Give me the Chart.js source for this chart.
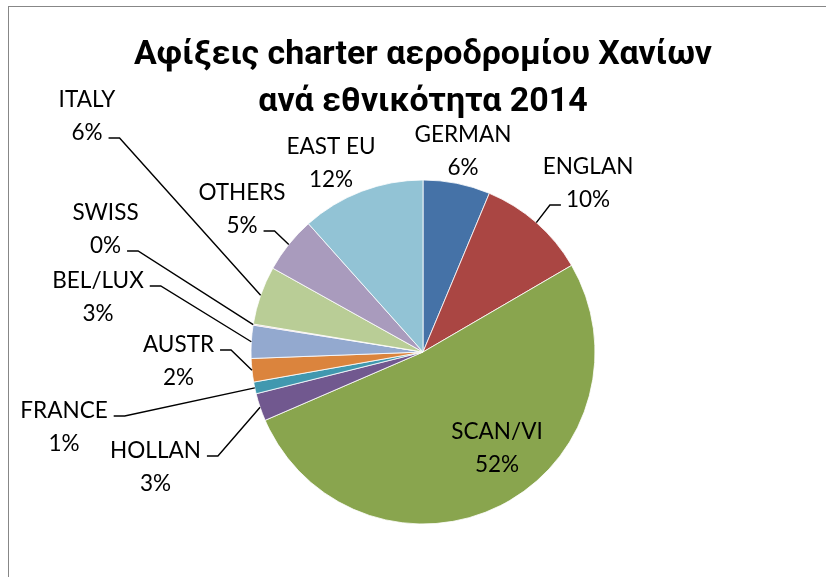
<!DOCTYPE html>
<html><head><meta charset="utf-8">
<script src="https://cdn.jsdelivr.net/npm/chart.js@4.4.0/dist/chart.umd.min.js"></script>
<style>html,body{margin:0;padding:0;background:#fff;}canvas{display:block;}</style>
</head><body>
<canvas id="c" width="826" height="577" style="width:826px;height:577px"></canvas>
<script>
// ---- data ----
const categories = ['GERMAN','ENGLAN','SCAN/VI','HOLLAN','FRANCE','AUSTR','BEL/LUX','SWISS','ITALY','OTHERS','EAST EU'];
const shares = [6.3, 10.3, 51.9, 2.6, 1.1, 2.2, 3.1, 0.1, 5.5, 5.3, 11.6];
const titleLines = ['Αφίξεις charter αεροδρομίου Χανίων', 'ανά εθνικότητα 2014'];

// ---- styles ----
const sliceColors = ['#4572A7','#AA4643','#89A54E','#71588F','#4198AF','#DB843D','#93A9CF','#D19392','#B9CD96','#A99BBD','#92C3D5'];
// baseline of the first label line, offset from the pie centre (px)
const labelOffsets = [[40,-210],[165,-178],[74,87],[-267.5,106],[-359,66],[-244.5,0],[-325,-64],[-317.5,-132],[-336,-245],[-181,-152],[-92,-198]];
// leader line: [line index, side] or null
const leaderAttach = [null,[1,'left'],null,[0,'right'],[0,'right'],[0,'right'],[0,'right'],[1,'right'],[1,'right'],[1,'right'],null];
const lineGap = 33;

const mctx = document.createElement('canvas').getContext('2d');
mctx.font = '100px Lato';
const labelSize = 100 * 97 / mctx.measureText('GERMAN').width;
const labelFont = labelSize.toFixed(2) + 'px Lato';
mctx.font = 'bold 100px Roboto';
const titleSize = 100 * 578 / mctx.measureText(titleLines[0]).width;
const titleFont = 'bold ' + titleSize.toFixed(2) + 'px Roboto';

const decorPlugin = {
  id: 'decor',
  afterDraw(chart) {
    const ctx = chart.ctx;
    const meta = chart.getDatasetMeta(0);
    const total = shares.reduce((a, b) => a + b, 0);
    ctx.save();
    // frame
    ctx.fillStyle = '#878787';
    ctx.fillRect(8, 6, 818, 1);
    ctx.fillRect(8, 6, 1, 571);
    const first = meta.data[0];
    const cx = first.x;
    // title
    ctx.fillStyle = '#000';
    ctx.textAlign = 'center';
    ctx.textBaseline = 'alphabetic';
    ctx.font = titleFont;
    ctx.fillText(titleLines[0], cx, 64);
    ctx.fillText(titleLines[1], cx, 111);
    // labels
    ctx.font = labelFont;
    ctx.strokeStyle = '#000';
    ctx.lineWidth = 1.4;
    meta.data.forEach((arc, i) => {
      const p = arc.getProps(['x','y','startAngle','endAngle','outerRadius'], true);
      const lx = p.x + labelOffsets[i][0], ly = p.y + labelOffsets[i][1];
      const pct = Math.round(Math.round(shares[i] / total * 1000) / 10) + '%';
      const lines = [categories[i], pct];
      lines.forEach((t, k) => ctx.fillText(t, lx, ly + k * lineGap));
      const att = leaderAttach[i];
      if (att) {
        const k = att[0], side = att[1];
        const w = ctx.measureText(lines[k]).width;
        const yy = ly + k * lineGap - 2;
        const sx = side === 'right' ? lx + w / 2 + 6 : lx - w / 2 - 5;
        const hx = side === 'right' ? sx + 11 : sx - 11;
        const mid = (p.startAngle + p.endAngle) / 2;
        const ex = p.x + Math.cos(mid) * p.outerRadius, ey = p.y + Math.sin(mid) * p.outerRadius;
        ctx.beginPath();
        ctx.moveTo(sx, yy); ctx.lineTo(hx, yy); ctx.lineTo(ex, ey);
        ctx.stroke();
      }
    });
    ctx.restore();
  }
};

new Chart(document.getElementById('c'), {
  type: 'pie',
  data: {
    labels: categories,
    datasets: [{
      data: shares,
      backgroundColor: sliceColors,
      borderColor: '#ffffff',
      borderWidth: 0.8,
      radius: 172
    }]
  },
  options: {
    responsive: false,
    animation: false,
    events: [],
    layout: { padding: { left: 251, right: 231, top: 180, bottom: 53 } },
    plugins: { legend: { display: false }, tooltip: { enabled: false }, title: { display: false } }
  },
  plugins: [decorPlugin]
});
</script>
</body></html>
